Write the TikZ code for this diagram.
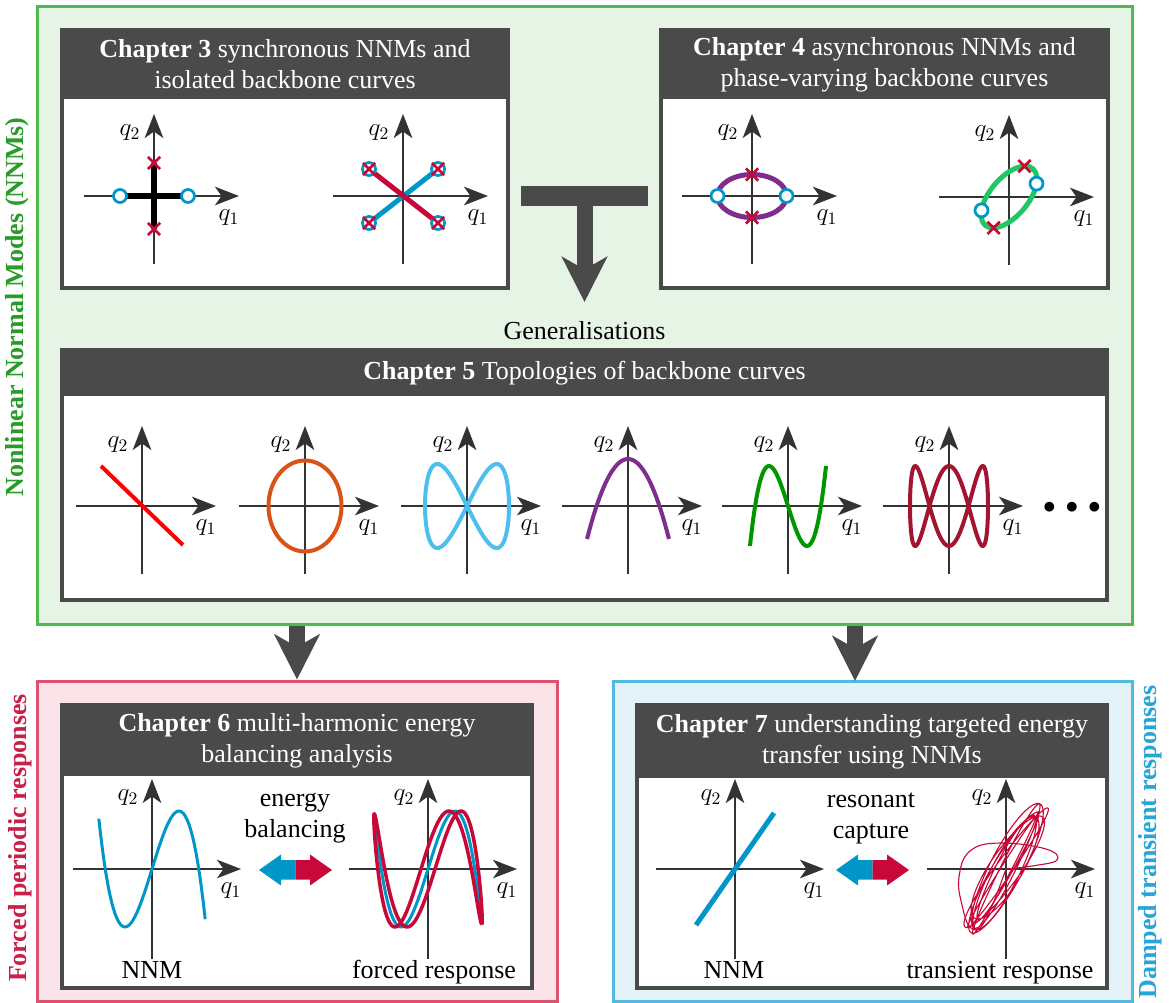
\documentclass[tikz,border=0pt]{standalone}
\usepackage[no-math]{fontspec}
\setmainfont{Liberation Serif}
\usepackage{tikz}
\usetikzlibrary{arrows.meta, positioning, fit, shapes.misc}
\definecolor{nnmgreen}{RGB}{80,186,80}
\definecolor{nnmfill}{RGB}{230,244,230}
\definecolor{nnmtext}{RGB}{40,155,40}
\definecolor{forcedred}{RGB}{222,82,112}
\definecolor{forcedfill}{RGB}{250,228,234}
\definecolor{forcedtext}{RGB}{200,32,72}
\definecolor{dampedblue}{RGB}{82,185,225}
\definecolor{dampedfill}{RGB}{228,243,248}
\definecolor{dampedtext}{RGB}{40,165,215}
\definecolor{panelgrey}{RGB}{74,74,74}
\definecolor{axisgrey}{RGB}{51,51,51}
\definecolor{nnmblue}{RGB}{0,150,200}
\definecolor{nnmred}{RGB}{200,8,56}
\definecolor{topored}{RGB}{255,0,0}
\definecolor{topoorange}{RGB}{217,83,25}
\definecolor{topocyan}{RGB}{77,190,238}
\definecolor{topopurple}{RGB}{126,47,142}
\definecolor{topogreen}{RGB}{0,150,0}
\definecolor{topomaroon}{RGB}{162,20,47}
\definecolor{asyngreen}{RGB}{30,200,100}
\newcommand{\mainsize}{\fontsize{14.8}{17.6}\selectfont}
\tikzset{
  nnmbox/.style={rectangle, draw=nnmgreen, fill=nnmfill, line width=0.06cm, inner sep=0pt},
  forcedbox/.style={rectangle, draw=forcedred, fill=forcedfill, line width=0.06cm, inner sep=0pt},
  dampedbox/.style={rectangle, draw=dampedblue, fill=dampedfill, line width=0.06cm, inner sep=0pt},
  panel/.style={rectangle, draw=panelgrey, fill=white, line width=0.08cm, inner sep=0pt},
  panelhead/.style={rectangle, fill=panelgrey, inner sep=0pt},
  headtext/.style={text=white, align=center, font=\mainsize, inner sep=0pt},
  plaintext/.style={align=center, font=\mainsize, inner sep=0pt},
  sidelabel/.style={rotate=90, font=\mainsize\bfseries, inner sep=0pt},
  axisline/.style={draw=axisgrey, line width=0.05cm, -{Stealth[length=0.48cm, width=0.37cm, inset=0.13cm]}},
  axlabel/.style={font=\mainsize, inner sep=0pt},
  bigarrow/.style={draw=panelgrey, line width=0.32cm, -{Stealth[length=0.9cm, width=0.9cm, inset=0.25cm]}},
  bluering/.style={circle, draw=nnmblue, fill=white, line width=0.055cm, minimum size=0.26cm, inner sep=0pt},
  redcross/.style={cross out, draw=nnmred, line width=0.055cm, minimum size=0.19cm, inner sep=0pt},
  curve/.style={line width=0.1cm, line join=round},
  topocurve/.style={line width=0.08cm, line join=round},
  transient/.style={draw=nnmred, line width=0.022cm}
}
% phase plane: name, cx, cy, left, right, top, bottom
\newcommand{\phaseaxes}[7]{%
  \draw[axisline] (#2-#4,#3) -- (#2+#5,#3);
  \draw[axisline] (#2,#3+#7) -- (#2,#3-#6);
  \node[axlabel] (#1q1) at (#2+#5-10,#3+22) {$q_1$};
  \node[axlabel] (#1q2) at (#2-24,#3-#6+19) {$q_2$};
}

\begin{document}
\begin{tikzpicture}[x=0.02cm, y=-0.02cm,
    declare function={cubic(\t)=3*\t-\t*\t*\t;
      band(\t)=(66+8*sin(0.31*\t r))*cos(\t r);
      side(\t)=(11+6*sin(0.23*\t r))*sin(\t r+0.4);
      tilt(\t)=59+4*sin(0.17*\t r);}]
  \useasboundingbox (0,0) rectangle (1169,1003);

  % outer boxes
  \node[nnmbox, fit={(37,7) (1132,624)}] (nnm) {};
  \node[forcedbox, fit={(37,681) (557,1001)}] (forced) {};
  \node[dampedbox, fit={(613,681) (1132,1001)}] (damped) {};
  \node[sidelabel, text=nnmtext] (nnmlabel) at (17,307) {Nonlinear Normal Modes (NNMs)};
  \node[sidelabel, text=forcedtext] (forcedlabel) at (20,838) {Forced periodic responses};
  \node[sidelabel, text=dampedtext] (dampedlabel) at (1150,842) {Damped transient responses};

  % Chapter 3
  \node[panel, fit={(62,30) (508,288)}] (ch3) {};
  \node[panelhead, fit={(62,30) (508,99)}] (ch3head) {};
  \node[headtext] (ch3title) at (ch3head) {\textbf{Chapter 3} synchronous NNMs and\\isolated backbone curves};
  \phaseaxes{ch3a}{154}{196}{70}{85}{82}{68}
  \draw[curve, line width=0.12cm, black] (120,196) -- (188,196);
  \draw[curve, line width=0.12cm, black] (154,163) -- (154,229);
  \node[bluering] (ch3a1) at (120,196) {};
  \node[bluering] (ch3a2) at (188,196) {};
  \node[redcross] (ch3a3) at (154,163) {};
  \node[redcross] (ch3a4) at (154,229) {};
  \phaseaxes{ch3b}{403}{196}{70}{85}{82}{68}
  \draw[curve, nnmblue] (369,223) -- (438,169);
  \draw[curve, nnmred] (369,169) -- (438,223);
  \foreach \p/\q [count=\i] in {369/223, 438/169, 369/169, 438/223}{
    \node[bluering] (ch3b\i) at (\p,\q) {};
    \node[redcross] (ch3bx\i) at (\p,\q) {};
  }

  % Chapter 4
  \node[panel, fit={(661,30) (1108,288)}] (ch4) {};
  \node[panelhead, fit={(661,30) (1108,99)}] (ch4head) {};
  \node[headtext] (ch4title) at (ch4head) {\textbf{Chapter 4} asynchronous NNMs and\\phase-varying backbone curves};
  \phaseaxes{ch4a}{752}{196}{70}{85}{82}{68}
  \draw[curve, topopurple] (752,196) ellipse (34.5 and 21.5);
  \node[bluering] (ch4a1) at (717.5,196) {};
  \node[bluering] (ch4a2) at (786.5,196) {};
  \node[redcross] (ch4a3) at (752,174.5) {};
  \node[redcross] (ch4a4) at (752,217.5) {};
  \phaseaxes{ch4b}{1009}{197}{70}{85}{82}{68}
  \begin{scope}[shift={(1009,197)}, rotate=50]
    \draw[curve, asyngreen] (0,0) ellipse (37 and 19);
    \node[bluering] (ch4b1) at (41:37 and 19) {};
    \node[bluering] (ch4b2) at (221:37 and 19) {};
    \node[redcross] (ch4b3) at (-25:37 and 19) {};
    \node[redcross] (ch4b4) at (155:37 and 19) {};
  \end{scope}

  % Generalisations
  \node[panelhead, fit={(521,186) (648,206)}] (tbar) {};
  \node[plaintext] (gen) at (584.5,331) {Generalisations};
  \coordinate (gentip) at (584.5,302);
  \draw[bigarrow] (tbar.center) -- (gentip);

  % Chapter 5
  \node[panel, fit={(62,350) (1107,600)}] (ch5) {};
  \node[panelhead, fit={(62,350) (1107,396)}] (ch5head) {};
  \node[headtext] (ch5title) at (ch5head) {\textbf{Chapter 5} Topologies of backbone curves};
  \phaseaxes{topo1}{142}{506}{66}{74}{80}{68}
  \draw[topocurve, topored] (101,466) -- (183,545);
  \phaseaxes{topo2}{305}{506}{66}{74}{80}{68}
  \draw[topocurve, topoorange] (305,506) ellipse (36.5 and 45.5);
  \phaseaxes{topo3}{467}{506}{66}{74}{80}{68}
  \draw[topocurve, topocyan] plot[domain=0:360, samples=120, variable=\a] ({467+42*sin(\a)}, {506-42*sin(2*\a)});
  \phaseaxes{topo4}{628}{506}{66}{74}{80}{68}
  \draw[topocurve, topopurple] plot[domain=-1:1, samples=40, variable=\t] ({628+41*\t}, {459+80*\t*\t});
  \phaseaxes{topo5}{788}{506}{66}{74}{80}{68}
  \draw[topocurve, topogreen] plot[domain=-2:2, samples=60, variable=\t] ({788+19*\t}, {506+20*cubic(\t)});
  \phaseaxes{topo6}{949}{506}{66}{74}{80}{68}
  \draw[topocurve, topomaroon] plot[domain=0:360, samples=150, variable=\a] ({949+39*sin(\a)}, {506-40*cos(3*\a)});
  \node[plaintext] (moredots) at (1072,508) {$\bullet\,\bullet\,\bullet$};

  % Chapter 6
  \node[panel, fit={(62,705) (532,988)}] (ch6) {};
  \node[panelhead, fit={(62,705) (532,776)}] (ch6head) {};
  \node[headtext] (ch6title) at (ch6head) {\textbf{Chapter 6} multi-harmonic energy\\balancing analysis};
  \phaseaxes{ch6a}{152}{869}{79}{89}{90}{90}
  \draw[topocurve, line width=0.06cm, nnmblue] plot[domain=-1.97:1.97, samples=60, variable=\t] ({152+27*\t}, {869-29*cubic(\t)});
  \node[plaintext, anchor=base] (ch6nnm) at (152,978) {NNM};
  \node[plaintext] (ch6mid) at (295,818) {energy\\balancing};
  \fill[nnmblue] (295.5,860) -- (281,860) -- (281,854.5) -- (259,870) -- (281,885.5) -- (281,879.5) -- (295.5,879.5) -- cycle;
  \fill[nnmred] (295.5,860) -- (310,860) -- (310,854.5) -- (332,870) -- (310,885.5) -- (310,879.5) -- (295.5,879.5) -- cycle;
  \phaseaxes{ch6b}{428}{869}{79}{89}{90}{90}
  \draw[topocurve, line width=0.06cm, nnmblue] plot[domain=-1.97:1.97, samples=60, variable=\t] ({428+27*\t}, {869-29*cubic(\t)});
  \draw[topocurve, line width=0.07cm, nnmred] plot[domain=0:360, samples=140, variable=\a] ({428+27*1.99*cos(\a)+7*sin(\a)}, {869-29*cubic(1.99*cos(\a))});
  \node[plaintext, anchor=base] (ch6forced) at (434,978) {forced response};

  % Chapter 7
  \node[panel, fit={(637,705) (1107,988)}] (ch7) {};
  \node[panelhead, fit={(637,705) (1107,778)}] (ch7head) {};
  \node[headtext] (ch7title) at (ch7head) {\textbf{Chapter 7} understanding targeted energy\\transfer using NNMs};
  \phaseaxes{ch7a}{735}{869}{79}{89}{90}{90}
  \draw[curve, nnmblue] (696,925) -- (774,813);
  \node[plaintext, anchor=base] (ch7nnm) at (734,978) {NNM};
  \node[plaintext] (ch7mid) at (871,818) {resonant\\capture};
  \fill[nnmblue] (872.5,860) -- (858,860) -- (858,854.5) -- (836,870) -- (858,885.5) -- (858,879.5) -- (872.5,879.5) -- cycle;
  \fill[nnmred] (872.5,860) -- (887,860) -- (887,854.5) -- (909,870) -- (887,885.5) -- (887,879.5) -- (872.5,879.5) -- cycle;
  \phaseaxes{ch7b}{1006}{869}{79}{89}{90}{90}
  % first wide swing, then the captured band
  \draw[transient] plot[smooth, tension=0.7] coordinates {(1006,869) (1032,866) (1057,860) (1046,849) (1000,843) (970,851) (959,877) (962,905) (971,928) (985,921) (1006,869)};
  \draw[transient] plot[domain=0:50, samples=900, variable=\t]
    ({1006+band(\t)*cos(tilt(\t))-side(\t)*sin(tilt(\t))},
     {869-band(\t)*sin(tilt(\t))-side(\t)*cos(tilt(\t))});
  \node[plaintext, anchor=base] (ch7transient) at (1000,978) {transient response};

  % flow into the lower boxes
  \coordinate (dampin) at (855,681);
  \draw[bigarrow] (nnm.south -| ch6) -- (forced.north -| ch6);
  \draw[bigarrow] (nnm.south -| dampin) -- (dampin);
\end{tikzpicture}
\end{document}
